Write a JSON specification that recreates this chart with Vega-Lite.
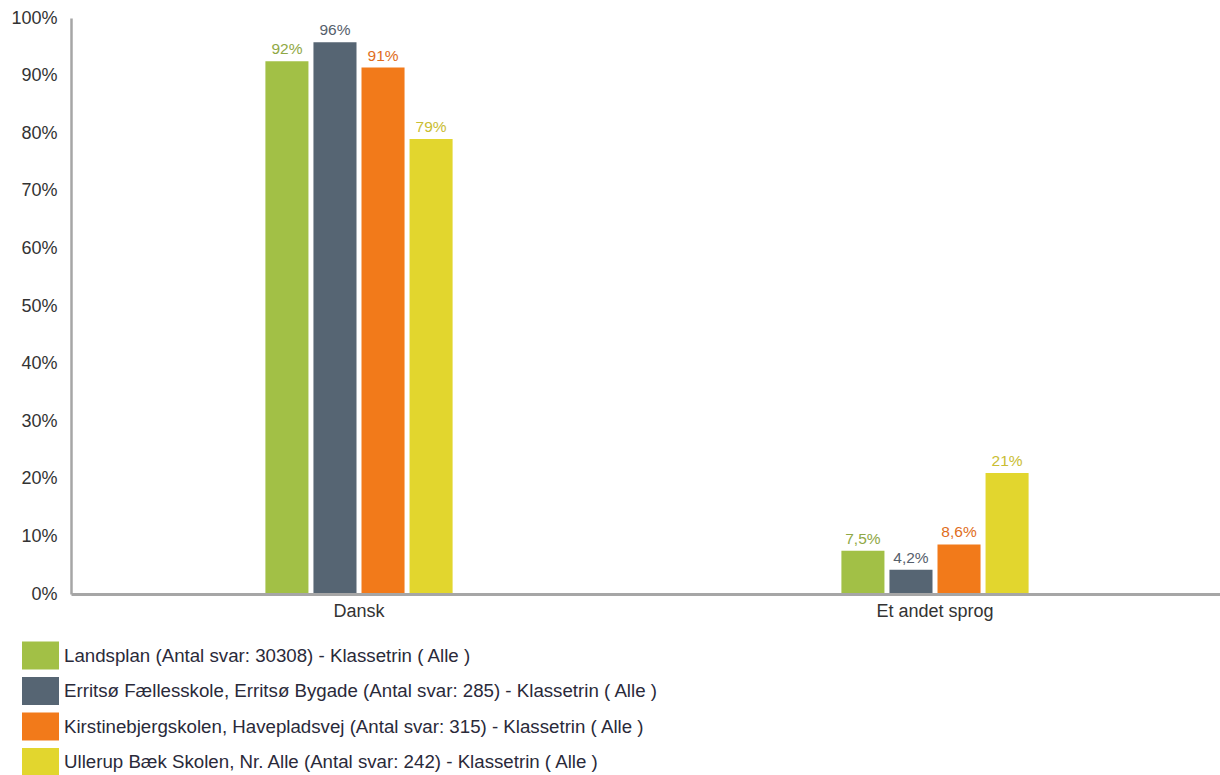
{
  "$schema": "https://vega.github.io/schema/vega-lite/v6.json",
  "width": 1152,
  "height": 576,
  "autosize": {"type": "none"},
  "padding": {"left": 71, "top": 18, "right": 0, "bottom": 181},
  "background": "white",
  "config": {
    "font": "Liberation Sans",
    "view": {"stroke": null},
    "locale": {"number": {"decimal": ",", "thousands": ".", "grouping": [3], "currency": ["", " kr."]}}
  },
  "data": {
    "values": [
      {"sprog": "Dansk", "skole": "Landsplan (Antal svar: 30308)  - Klassetrin ( Alle )", "andel": 0.9247},
      {"sprog": "Dansk", "skole": "Erritsø Fællesskole, Erritsø Bygade (Antal svar: 285)  - Klassetrin ( Alle )", "andel": 0.958},
      {"sprog": "Dansk", "skole": "Kirstinebjergskolen, Havepladsvej (Antal svar: 315)  - Klassetrin ( Alle )", "andel": 0.914},
      {"sprog": "Dansk", "skole": "Ullerup Bæk Skolen, Nr. Alle (Antal svar: 242)  - Klassetrin ( Alle )", "andel": 0.79},
      {"sprog": "Et andet sprog", "skole": "Landsplan (Antal svar: 30308)  - Klassetrin ( Alle )", "andel": 0.0753},
      {"sprog": "Et andet sprog", "skole": "Erritsø Fællesskole, Erritsø Bygade (Antal svar: 285)  - Klassetrin ( Alle )", "andel": 0.042},
      {"sprog": "Et andet sprog", "skole": "Kirstinebjergskolen, Havepladsvej (Antal svar: 315)  - Klassetrin ( Alle )", "andel": 0.086},
      {"sprog": "Et andet sprog", "skole": "Ullerup Bæk Skolen, Nr. Alle (Antal svar: 242)  - Klassetrin ( Alle )", "andel": 0.21}
    ]
  },
  "transform": [
    {"calculate": "datum.andel >= 0.1 ? format(datum.andel, '.0%') : format(datum.andel, '.1%')", "as": "etiket"}
  ],
  "encoding": {
    "x": {
      "field": "sprog", "type": "nominal", "title": null,
      "scale": {"paddingInner": 0.675, "paddingOuter": 0.3375},
      "axis": {"labelAngle": 0, "labelFontSize": 18, "labelColor": "#333333", "labelPadding": 8, "ticks": false, "domainColor": "#a6a6a6", "domainWidth": 3, "zindex": 1}
    },
    "xOffset": {
      "field": "skole", "type": "nominal",
      "sort": null,
      "scale": {"paddingInner": 0.104, "paddingOuter": 0}
    },
    "y": {
      "field": "andel", "type": "quantitative", "title": null,
      "scale": {"domain": [0, 1], "nice": false},
      "axis": {"format": ".0%", "values": [0, 0.1, 0.2, 0.3, 0.4, 0.5, 0.6, 0.7, 0.8, 0.9, 1], "labelOverlap": false, "grid": false, "ticks": false, "labelFontSize": 18, "labelColor": "#333333", "labelPadding": 14, "domainColor": "#a6a6a6", "domainWidth": 2.5, "zindex": 1}
    }
  },
  "layer": [
    {
      "mark": {"type": "bar"},
      "encoding": {
        "color": {
          "field": "skole", "type": "nominal", "title": null,
          "scale": {
            "domain": [
              "Landsplan (Antal svar: 30308)  - Klassetrin ( Alle )",
              "Erritsø Fællesskole, Erritsø Bygade (Antal svar: 285)  - Klassetrin ( Alle )",
              "Kirstinebjergskolen, Havepladsvej (Antal svar: 315)  - Klassetrin ( Alle )",
              "Ullerup Bæk Skolen, Nr. Alle (Antal svar: 242)  - Klassetrin ( Alle )"
            ],
            "range": ["#a2c046", "#566573", "#f27a1a", "#e2d62e"]
          },
          "legend": {
            "orient": "none", "legendX": -49, "legendY": 619, "direction": "vertical",
            "symbolType": "M-1,-0.757H1V0.757H-1Z", "symbolSize": 1369, "symbolStrokeWidth": 0, "symbolOpacity": 1,
            "labelFontSize": 18.7, "labelColor": "#2a2a3a", "labelOffset": 5, "labelLimit": 1000, "rowPadding": 2.5
          }
        }
      }
    },
    {
      "mark": {"type": "text", "dy": -7, "baseline": "alphabetic", "fontSize": 15.5},
      "encoding": {
        "text": {"field": "etiket", "type": "nominal"},
        "color": {
          "field": "skole", "type": "nominal", "legend": null,
          "scale": {
            "domain": [
              "Landsplan (Antal svar: 30308)  - Klassetrin ( Alle )",
              "Erritsø Fællesskole, Erritsø Bygade (Antal svar: 285)  - Klassetrin ( Alle )",
              "Kirstinebjergskolen, Havepladsvej (Antal svar: 315)  - Klassetrin ( Alle )",
              "Ullerup Bæk Skolen, Nr. Alle (Antal svar: 242)  - Klassetrin ( Alle )"
            ],
            "range": ["#8fa845", "#56606c", "#e06d1c", "#c9bd32"]
          }
        }
      }
    }
  ],
  "resolve": {"scale": {"color": "independent"}}
}
